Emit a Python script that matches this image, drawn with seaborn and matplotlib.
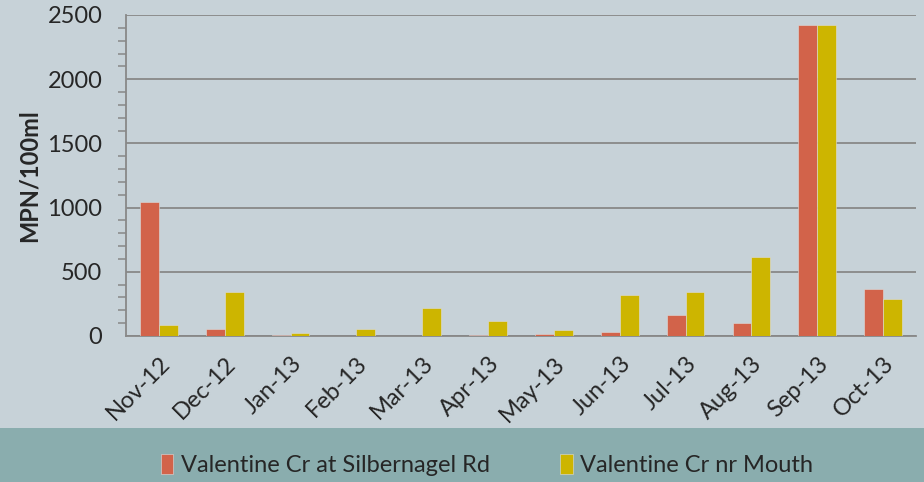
import pandas as pd
import seaborn as sns
import matplotlib.pyplot as plt
from matplotlib.patches import Rectangle
from matplotlib.ticker import MultipleLocator

months = ["Nov-12", "Dec-12", "Jan-13", "Feb-13", "Mar-13", "Apr-13",
          "May-13", "Jun-13", "Jul-13", "Aug-13", "Sep-13", "Oct-13"]
silbernagel = [1046, 55, 10, 3, 3, 10, 13, 31, 162, 104, 2420, 364]
mouth = [83, 340, 20, 57, 217, 115, 49, 322, 342, 612, 2420, 287]
series_names = ["Valentine Cr at Silbernagel Rd", "Valentine Cr nr Mouth"]
colors = ["#D2634A", "#CDB500"]

df = pd.DataFrame({
    "month": months * 2,
    "value": silbernagel + mouth,
    "site": [series_names[0]] * len(months) + [series_names[1]] * len(months),
})

sns.set_style("white")
plt.rcParams["font.family"] = ["Lato", "DejaVu Sans"]

bg = "#C7D2D8"
band = "#8AADAE"
grid_c = "#888888"

fig = plt.figure(figsize=(9.24, 4.82), dpi=100, facecolor=bg)
fig.patches.append(Rectangle((0, 0), 1, 54 / 482, transform=fig.transFigure,
                             facecolor=band, edgecolor="none", zorder=0))
ax = fig.add_axes([126 / 924, 1 - 336 / 482, 790 / 924, 321 / 482])
ax.set_facecolor(bg)

sns.barplot(data=df, x="month", y="value", hue="site", palette=colors,
            saturation=1, width=0.57, gap=0, edgecolor="#DDDDDD",
            linewidth=0.4, ax=ax, zorder=3)

ax.set_xlim(-0.5, len(months) - 0.5)
ax.set_ylim(0, 2500)
ax.yaxis.set_major_locator(MultipleLocator(500))
ax.yaxis.set_minor_locator(MultipleLocator(100))
ax.grid(axis="y", which="major", color=grid_c, linewidth=1.3, zorder=0)
ax.set_axisbelow(True)

for s in ["top", "right"]:
    ax.spines[s].set_visible(False)
for s in ["left", "bottom"]:
    ax.spines[s].set_color(grid_c)
    ax.spines[s].set_linewidth(1.3)

ax.set_xticks([i - 0.5 for i in range(len(months) + 1)], minor=False)
ax.set_xticklabels([])
ax.set_xticks(range(len(months)), minor=True)
ax.set_xticklabels(months, minor=True, rotation=45, ha="right",
                   rotation_mode="anchor", fontsize=17)
ax.tick_params(axis="x", which="major", length=7, width=1.3, color=grid_c,
               direction="out")
ax.tick_params(axis="x", which="minor", length=0, pad=12)
ax.tick_params(axis="y", which="major", length=7, width=1.3, color=grid_c,
               labelsize=17, pad=10)
ax.tick_params(axis="y", which="minor", length=6, width=1.1, color=grid_c,
               left=True)

ax.set_xlabel("")
ax.set_ylabel("MPN/100ml", fontsize=17, fontweight="bold", labelpad=5)

ax.legend_.remove()
handles, labels = ax.get_legend_handles_labels()
fig.legend(handles, labels, loc="center",
           bbox_to_anchor=(0.5 + 25 / 924, 17 / 482),
           ncol=2, frameon=False, fontsize=17, handlelength=0.55,
           handleheight=0.9, handletextpad=0.3, columnspacing=3.0)

fig.savefig("out.png", dpi=100, facecolor=bg)
